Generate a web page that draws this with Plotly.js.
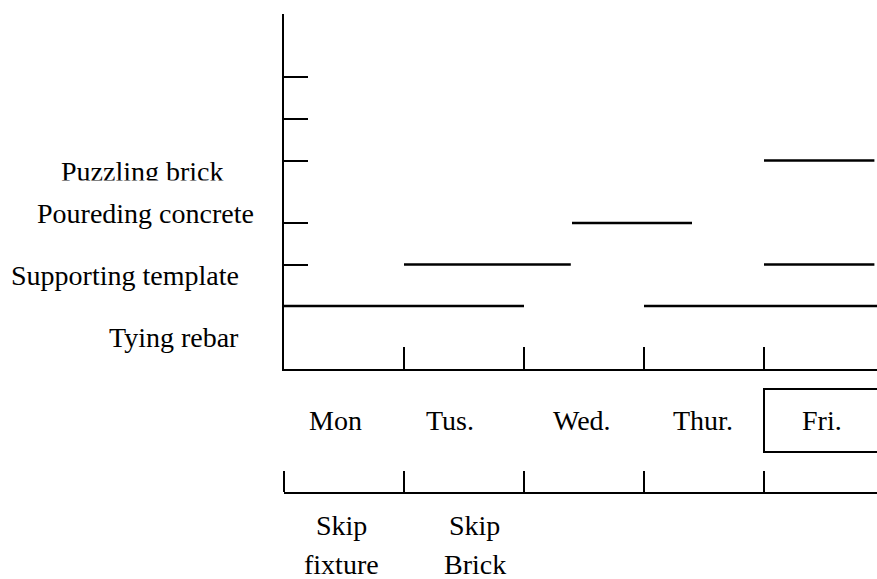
<!DOCTYPE html>
<html>
<head>
<meta charset="utf-8">
<script src="https://cdn.plot.ly/plotly-3.0.1.min.js"></script>
<style>html,body{margin:0;padding:0;background:#fff;}#chart{width:877px;height:579px;}</style>
</head>
<body>
<div id="chart"></div>
<script>
// ---- data ----
const days = ["Mon", "Tus.", "Wed.", "Thur.", "Fri."];
const activities = ["Tying rebar", "Supporting template", "Poureding concrete", "Puzzling brick"];
const activityLevels = [3, 5, 7, 10];
const extraTickLevels = [12, 14];
const taskActivity = ["Tying rebar", "Tying rebar", "Supporting template", "Supporting template", "Poureding concrete", "Puzzling brick"];
const taskStart = [0, 3, 1, 4, 2.4, 4];
const taskEnd = [2, 5, 2.39, 4.92, 3.4, 4.92];
const highlightDay = "Fri.";
const skipDays = ["Mon", "Tus."];
const skipLine1 = ["Skip", "Skip"];
const skipLine2 = ["fixture", "Brick"];

// ---- layout geometry ----
const W = 877, H = 579, L = 284, T = 14;
const plotW = W - L, paperH = H - T;
const pxPerDay = 120, pxPerLevel = 20.8;
const axisBottomPx = 368.5, lowerAxisPx = 494;
const py = p => (H - p) / paperH;          // pixel y -> paper y
const px = p => (p - L) / plotW;           // pixel x -> paper x
const xMax = plotW / pxPerDay;
const yMax = (axisBottomPx - T) / pxPerLevel;

const FONT = {family: "Liberation Serif, Times New Roman, serif", size: 28, color: "#000"};

// line trace built from tasks
const lx = [], ly = [];
taskActivity.forEach((a, i) => {
  const lvl = activityLevels[activities.indexOf(a)];
  lx.push(taskStart[i], taskEnd[i], null);
  ly.push(lvl, lvl, null);
});

const traces = [
  {x: lx, y: ly, mode: "lines", type: "scatter", line: {color: "#000", width: 2.5},
   hoverinfo: "skip", showlegend: false},
  {x: [], y: [], xaxis: "x2", yaxis: "y2", type: "scatter", mode: "lines", showlegend: false}
];

// label placement (layout)
const actLabelRightPx = [240, 240, 255, 225];
const actLabelMidPx = [337.5, 275.5, 213.5, 172];
const dayLabelOffset = [0.425, 0.38, 0.48, 0.49, 0.48];
const dayLabelMidPx = 420;
const skipLabelOffset = [0.48, 0.59];

const annotations = [];
activities.forEach((a, i) => {
  annotations.push({xref: "paper", yref: "paper", x: px(actLabelRightPx[i]), y: py(actLabelMidPx[i]),
    xanchor: "right", yanchor: "middle", text: a, showarrow: false, font: FONT, borderpad: 0});
});
// clip the bottom of the top label
annotations.push({xref: "paper", yref: "paper", x: px(143), y: py(179.5), xanchor: "center", yanchor: "top",
  text: " ", showarrow: false, bgcolor: "#fff", width: 200, height: 14, borderpad: 0, font: {size: 8}});
days.forEach((d, i) => {
  annotations.push({xref: "x", yref: "paper", x: i + dayLabelOffset[i], y: py(dayLabelMidPx),
    xanchor: "center", yanchor: "middle", text: d, showarrow: false, font: FONT, borderpad: 0});
});
skipDays.forEach((d, i) => {
  const xi = days.indexOf(d) + skipLabelOffset[i];
  annotations.push({xref: "x", yref: "paper", x: xi, y: py(525.5), xanchor: "center", yanchor: "middle",
    text: skipLine1[i], showarrow: false, font: FONT, borderpad: 0});
  annotations.push({xref: "x", yref: "paper", x: xi, y: py(564.5), xanchor: "center", yanchor: "middle",
    text: skipLine2[i], showarrow: false, font: FONT, borderpad: 0});
});

const hd = days.indexOf(highlightDay);
const shapes = [{type: "rect", xref: "x", yref: "paper", x0: hd, x1: hd + 1.2,
  y0: py(452), y1: py(389), line: {color: "#000", width: 2}, fillcolor: "rgba(0,0,0,0)"}];

const dayTicks = days.map((d, i) => i);

const layout = {
  width: W, height: H,
  margin: {l: L, r: 0, t: T, b: 0, pad: 0},
  paper_bgcolor: "#fff", plot_bgcolor: "#fff",
  showlegend: false,
  xaxis: {range: [0, xMax], domain: [0, 1], anchor: "y", showgrid: false, zeroline: false,
    showline: true, linecolor: "#000", linewidth: 2.5, ticks: "inside", tickvals: dayTicks.slice(1),
    ticklen: 22, tickwidth: 2, tickcolor: "#000", showticklabels: false, fixedrange: true},
  yaxis: {range: [0, yMax], domain: [py(axisBottomPx), 1], anchor: "x", showgrid: false, zeroline: false,
    showline: true, linecolor: "#000", linewidth: 2.5, ticks: "inside",
    tickvals: activityLevels.concat(extraTickLevels), ticklen: 24, tickwidth: 2, tickcolor: "#000",
    showticklabels: false, fixedrange: true},
  xaxis2: {range: [0, xMax], domain: [0, 1], anchor: "y2", side: "top", showgrid: false, zeroline: false,
    showline: true, linecolor: "#000", linewidth: 2.5, ticks: "outside", tickvals: dayTicks,
    ticklen: 21, tickwidth: 2, tickcolor: "#000", showticklabels: false, fixedrange: true},
  yaxis2: {range: [0, 1], domain: [py(lowerAxisPx) - 0.05, py(lowerAxisPx)], anchor: "x2",
    visible: false, fixedrange: true},
  annotations: annotations,
  shapes: shapes
};

Plotly.newPlot("chart", traces, layout, {displayModeBar: false, staticPlot: true});
</script>
</body>
</html>
